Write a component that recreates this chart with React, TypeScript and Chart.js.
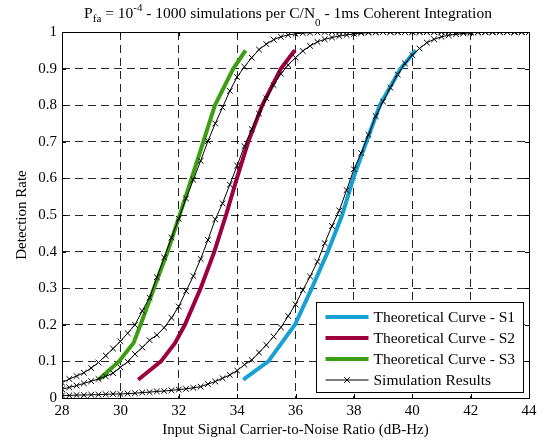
import React, { useEffect, useRef } from "react";
import { Chart, registerables } from "chart.js";

Chart.register(...registerables);

// C/N0 grid of the simulations (dB-Hz)
const simCN0 = [
  28, 28.25, 28.5, 28.75, 29, 29.25, 29.5, 29.75, 30, 30.25, 30.5, 30.75, 31, 31.25, 31.5, 31.75,
  32, 32.25, 32.5, 32.75, 33, 33.25, 33.5, 33.75, 34, 34.25, 34.5, 34.75, 35, 35.25, 35.5, 35.75,
  36, 36.25, 36.5, 36.75, 37, 37.25, 37.5, 37.75, 38, 38.25, 38.5, 38.75, 39, 39.25, 39.5, 39.75,
  40, 40.25, 40.5, 40.75, 41, 41.25, 41.5, 41.75, 42, 42.25, 42.5, 42.75, 43, 43.25, 43.5, 43.75, 44,
];

// Simulation results (detection rate), S3 / S2 / S1
const simS3 = [
  0.042, 0.052, 0.06, 0.069, 0.082, 0.097, 0.116, 0.135, 0.155, 0.177, 0.2, 0.238, 0.274, 0.33, 0.384, 0.438,
  0.49, 0.545, 0.596, 0.648, 0.702, 0.75, 0.794, 0.839, 0.877, 0.905, 0.93, 0.952, 0.967, 0.979, 0.987, 0.992,
  0.995, 0.997, 0.998, 0.999, 1, 1, 1, 1, 1, 1, 1, 1, 1, 1, 1, 1,
  1, 1, 1, 1, 1, 1, 1, 1, 1, 1, 1, 1, 1, 1, 1, 1, 1,
];
const simS2 = [
  0.024, 0.029, 0.034, 0.04, 0.046, 0.052, 0.059, 0.068, 0.084, 0.099, 0.12, 0.138, 0.158, 0.172, 0.192, 0.219,
  0.25, 0.292, 0.333, 0.38, 0.432, 0.488, 0.532, 0.583, 0.635, 0.688, 0.735, 0.777, 0.819, 0.855, 0.886, 0.91,
  0.93, 0.948, 0.962, 0.973, 0.98, 0.985, 0.989, 0.992, 0.995, 0.997, 0.998, 0.999, 1, 1, 1, 1,
  1, 1, 1, 1, 1, 1, 1, 1, 1, 1, 1, 1, 1, 1, 1, 1, 1,
];
const simS1 = [
  0.007, 0.007, 0.008, 0.008, 0.009, 0.009, 0.01, 0.011, 0.011, 0.012, 0.013, 0.015, 0.016, 0.018, 0.019, 0.021,
  0.023, 0.025, 0.028, 0.031, 0.038, 0.045, 0.054, 0.063, 0.075, 0.091, 0.104, 0.124, 0.145, 0.168, 0.193, 0.224,
  0.256, 0.295, 0.332, 0.372, 0.423, 0.47, 0.512, 0.568, 0.625, 0.669, 0.719, 0.77, 0.81, 0.848, 0.884, 0.914,
  0.937, 0.955, 0.971, 0.98, 0.987, 0.991, 0.994, 0.996, 0.998, 0.999, 1, 1, 1, 1, 1, 1, 1,
];

// Theoretical curves: C/N0 needed for each detection probability
const pdLevels = [0.05, 0.1, 0.15, 0.2, 0.3, 0.4, 0.5, 0.6, 0.7, 0.8, 0.9, 0.95];
const theoS1 = [34.21, 35.07, 35.52, 35.98, 36.56, 37.11, 37.6, 37.98, 38.43, 38.89, 39.6, 40.12];
const theoS2 = [30.61, 31.39, 31.87, 32.21, 32.75, 33.22, 33.62, 33.99, 34.38, 34.86, 35.5, 35.98];
const theoS3 = [29.25, 29.95, 30.45, 30.69, 31.15, 31.62, 32.03, 32.44, 32.84, 33.24, 33.87, 34.29];

const yTickLabels = ["0", "0.1", "0.2", "0.3", "0.4", "0.5", "0.6", "0.7", "0.8", "0.9", "1"];
const xLabel = "Input Signal Carrier-to-Noise Ratio (dB-Hz)";
const yLabel = "Detection Rate";
const legendLabels = [
  "Theoretical Curve - S1",
  "Theoretical Curve - S2",
  "Theoretical Curve - S3",
  "Simulation Results",
];
const titleParts: { text: string; kind: "n" | "sub" | "sup" }[] = [
  { text: "P", kind: "n" },
  { text: "fa", kind: "sub" },
  { text: " = 10", kind: "n" },
  { text: "-4", kind: "sup" },
  { text: " - 1000 simulations per C/N", kind: "n" },
  { text: "0", kind: "sub" },
  { text: " - 1ms Coherent Integration", kind: "n" },
];

const FONT = "'Liberation Serif', 'Times New Roman', serif";
const BLUE = "rgb(22,160,212)";
const RED = "rgb(158,0,62)";
const GREEN = "rgb(62,158,18)";

const frameAndDecor = {
  id: "frameAndDecor",
  afterDatasetsDraw(chart: any) {
    const { ctx, chartArea: a, scales } = chart;
    ctx.save();
    // inner ticks
    ctx.strokeStyle = "#000";
    ctx.lineWidth = 1;
    ctx.beginPath();
    const tl = 4;
    scales.x.ticks.forEach((t: any) => {
      const px = Math.round(scales.x.getPixelForValue(t.value)) + 0.5;
      ctx.moveTo(px, a.bottom);
      ctx.lineTo(px, a.bottom - tl);
      ctx.moveTo(px, a.top);
      ctx.lineTo(px, a.top + tl);
    });
    scales.y.ticks.forEach((t: any) => {
      const py = Math.round(scales.y.getPixelForValue(t.value)) + 0.5;
      ctx.moveTo(a.left, py);
      ctx.lineTo(a.left + tl, py);
      ctx.moveTo(a.right, py);
      ctx.lineTo(a.right - tl, py);
    });
    ctx.stroke();
    // frame
    ctx.strokeRect(Math.round(a.left) + 0.5, Math.round(a.top) + 0.5, Math.round(a.right - a.left), Math.round(a.bottom - a.top));

    // legend
    const bw = 207;
    const bh = 90;
    const bx = Math.round(a.right - 6 - bw) + 0.5;
    const by = Math.round(a.bottom - 6 - bh) + 0.5;
    ctx.fillStyle = "#fff";
    ctx.fillRect(bx, by, bw, bh);
    ctx.strokeStyle = "#000";
    ctx.lineWidth = 1;
    ctx.strokeRect(bx, by, bw, bh);
    const colors = [BLUE, RED, GREEN, "#000"];
    ctx.font = `15.5px ${FONT}`;
    ctx.textBaseline = "middle";
    ctx.textAlign = "left";
    legendLabels.forEach((lab, i) => {
      const cy = by + 14.5 + i * 21;
      const x0 = bx + 9;
      const x1 = bx + 52;
      ctx.strokeStyle = colors[i];
      ctx.lineWidth = i < 3 ? 4 : 1;
      ctx.beginPath();
      ctx.moveTo(x0, cy);
      ctx.lineTo(x1, cy);
      ctx.stroke();
      if (i === 3) {
        const mx = (x0 + x1) / 2;
        ctx.beginPath();
        ctx.moveTo(mx - 2.8, cy - 2.8);
        ctx.lineTo(mx + 2.8, cy + 2.8);
        ctx.moveTo(mx - 2.8, cy + 2.8);
        ctx.lineTo(mx + 2.8, cy - 2.8);
        ctx.stroke();
      }
      ctx.fillStyle = "#000";
      ctx.fillText(lab, bx + 57, cy + 1);
    });

    // title with sub/superscripts
    const big = `15.5px ${FONT}`;
    const small = `11px ${FONT}`;
    let total = 0;
    titleParts.forEach((p) => {
      ctx.font = p.kind === "n" ? big : small;
      total += ctx.measureText(p.text).width;
    });
    let x = 288 - total / 2;
    const base = 18;
    ctx.textBaseline = "alphabetic";
    ctx.fillStyle = "#000";
    titleParts.forEach((p) => {
      ctx.font = p.kind === "n" ? big : small;
      let y = base;
      if (p.kind === "sub") y = base + (p.text === "0" ? 8 : 4);
      if (p.kind === "sup") y = base - 7;
      ctx.fillText(p.text, x, y);
      x += ctx.measureText(p.text).width;
    });
    ctx.restore();
  },
};

export default function App() {
  const ref = useRef<HTMLCanvasElement | null>(null);
  useEffect(() => {
    if (!ref.current) return;
    const pts = (xs: number[], ys: number[]) => xs.map((x, i) => ({ x, y: ys[i] }));
    const theo = (label: string, xs: number[], color: string) => ({
      label,
      data: pts(xs, pdLevels),
      borderColor: color,
      backgroundColor: color,
      borderWidth: 4,
      pointRadius: 0,
      tension: 0,
      order: 2,
    });
    const sim = (ys: number[]) => ({
      label: legendLabels[3],
      data: pts(simCN0, ys),
      borderColor: "#000",
      backgroundColor: "#000",
      borderWidth: 1,
      pointStyle: "crossRot",
      pointRadius: 4,
      pointBorderWidth: 1,
      pointBorderColor: "#000",
      tension: 0,
      order: 1,
    });
    const chart = new Chart(ref.current, {
      type: "line",
      data: {
        datasets: [
          theo(legendLabels[0], theoS1, BLUE),
          theo(legendLabels[1], theoS2, RED),
          theo(legendLabels[2], theoS3, GREEN),
          sim(simS1),
          sim(simS2),
          sim(simS3),
        ] as any,
      },
      options: {
        animation: false,
        responsive: false,
        events: [],
        layout: { padding: { top: 32, right: 18, bottom: 0, left: 0 } },
        plugins: { legend: { display: false }, tooltip: { enabled: false }, title: { display: false } },
        scales: {
          x: {
            type: "linear",
            min: 28,
            max: 44,
            afterFit: (s: any) => {
              s.height = 48;
            },
            ticks: { stepSize: 2, color: "#000", font: { family: FONT, size: 15 }, padding: 4, maxRotation: 0 },
            grid: { color: "rgba(0,0,0,0.85)", lineWidth: 1, drawTicks: false },
            border: { display: false, dash: [8, 5] },
            title: { display: true, text: xLabel, color: "#000", font: { family: FONT, size: 15 }, padding: { top: 0, bottom: 7 } },
          },
          y: {
            type: "linear",
            min: 0,
            max: 1,
            afterFit: (s: any) => {
              s.width = 62;
            },
            ticks: {
              stepSize: 0.1,
              color: "#000",
              font: { family: FONT, size: 15 },
              padding: 5,
              callback: (_v: any, i: number) => yTickLabels[i],
            },
            grid: { color: "rgba(0,0,0,0.85)", lineWidth: 1, drawTicks: false },
            border: { display: false, dash: [8, 5] },
            title: { display: true, text: yLabel, color: "#000", font: { family: FONT, size: 15 }, padding: { top: 13, bottom: 0 } },
          },
        },
      },
      plugins: [frameAndDecor],
    } as any);
    return () => chart.destroy();
  }, []);
  return (
    <div style={{ position: "fixed", left: 0, top: 0, width: 547, height: 446, background: "#fff" }}>
      <canvas ref={ref} width={547} height={446} style={{ display: "block", width: 547, height: 446 }} />
    </div>
  );
}
